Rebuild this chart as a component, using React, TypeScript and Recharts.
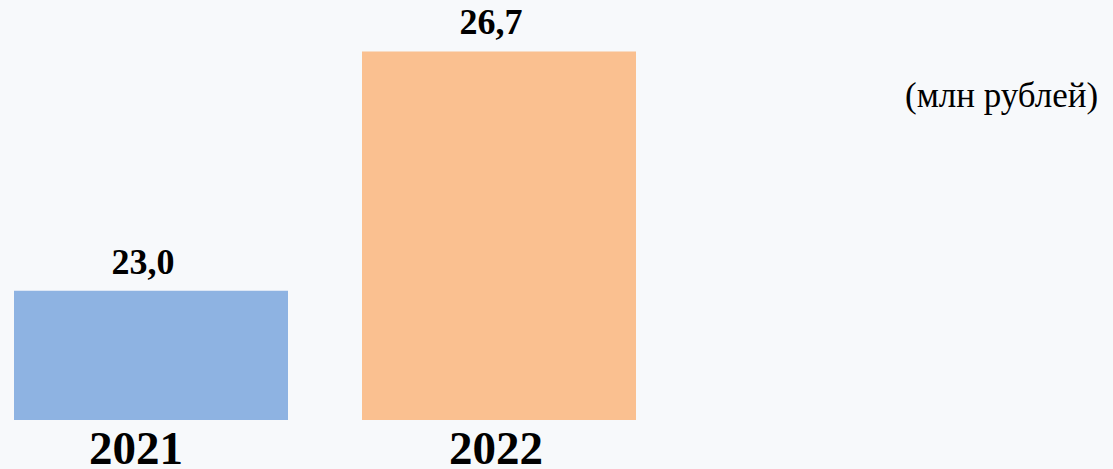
import React from "react";
import { BarChart, Bar, XAxis, YAxis, Cell, LabelList } from "recharts";

const years = ["2021", "2022"];
const values = [23.0, 26.7];
const valueLabels = ["23,0", "26,7"];
const barColors = ["#8EB3E2", "#FAC090"];
const unitLabel = "(млн рублей)";

const data = years.map((y, i) => ({ year: y, value: values[i], label: valueLabels[i] }));

const FONT = "'Liberation Serif', 'Times New Roman', serif";
const tickShift = [-15, -3];

const YearTick = (props: any) => {
  const { x, y, payload, index } = props;
  return (
    <text
      x={x + (tickShift[index] ?? 0)}
      y={y}
      dy="0.71em"
      textAnchor="middle"
      fill="#000"
      fontSize={47}
      fontWeight="bold"
      fontFamily={FONT}
    >
      {payload.value}
    </text>
  );
};

const ValueLabel = (props: any) => {
  const { x, y, width, value } = props;
  return (
    <text
      x={x + width / 2 - 8}
      y={y - 17}
      textAnchor="middle"
      fill="#000"
      fontSize={36}
      fontWeight="bold"
      fontFamily={FONT}
    >
      {value}
    </text>
  );
};

export default function App() {
  return (
    <div style={{ position: "absolute", left: 0, top: 0, width: 1113, height: 469, background: "#F7F9FB", fontFamily: FONT, overflow: "hidden" }}>
      <BarChart
        width={1113}
        height={469}
        data={data}
        margin={{ top: 32, right: 440, bottom: 0, left: -23 }}
      >
        <XAxis
          dataKey="year"
          axisLine={false}
          tickLine={false}
          tickSize={0}
          tickMargin={11}
          height={49}
          interval={0}
          tick={<YearTick />}
        />
        <YAxis hide domain={[21, 27]} allowDataOverflow width={0} />
        <Bar dataKey="value" barSize={274} isAnimationActive={false}>
          {data.map((d, i) => (
            <Cell key={d.year} fill={barColors[i]} />
          ))}
          <LabelList dataKey="label" content={<ValueLabel />} />
        </Bar>
      </BarChart>
      <div
        style={{
          position: "absolute",
          left: 905,
          top: 76,
          fontSize: 35,
          fontFamily: FONT,
          color: "#000",
          whiteSpace: "nowrap",
          lineHeight: "40px",
        }}
      >
        {unitLabel}
      </div>
    </div>
  );
}
